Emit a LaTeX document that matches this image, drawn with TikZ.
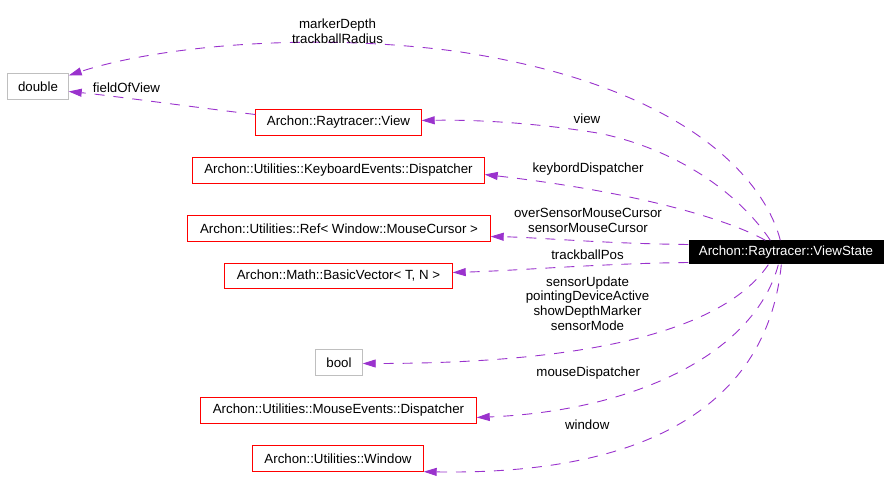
\documentclass[tikz,border=0pt]{standalone}
\usepackage{fontspec}
\setmainfont{Liberation Sans}
\usetikzlibrary{arrows.meta}
\definecolor{edgepurple}{RGB}{154,50,205}
\definecolor{boxred}{RGB}{255,0,0}
\definecolor{boxgrey}{RGB}{191,191,191}
\begin{document}
\begin{tikzpicture}[x=1bp,y=-1bp,
  every node/.style={font=\fontsize{13.3bp}{14.7bp}\selectfont, inner sep=0bp},
  classbox/.style={minimum height=26bp},
  typebox/.style={minimum height=26bp},
  redline/.style={draw=boxred, line width=1bp},
  greyline/.style={draw=boxgrey, line width=1bp},
  mainbox/.style={fill=black, text=white, minimum height=24bp, minimum width=195bp},
  member/.style={draw=edgepurple, line width=0.9bp, dash pattern=on 10bp off 9bp,
    -{Triangle[length=13bp,width=8bp,fill=edgepurple]}},
  lbl/.style={align=center, text=black}
]
\path[use as bounding box] (0,0) rectangle (891,488);

\begin{scope}[shift={(0.5,0.5)}]
% nodes
\node[typebox, minimum width=61bp] (d) at (37.5,86) {double};
\node[classbox, minimum width=166bp] (v) at (338,122) {Archon::Raytracer::View};
\node[classbox, minimum width=292bp] (kb) at (338,170) {Archon::Utilities::KeyboardEvents::Dispatcher};
\node[classbox, minimum width=303bp] (ref) at (338.5,228) {Archon::Utilities::Ref< Window::MouseCursor >};
\node[classbox, minimum width=228bp, minimum height=25bp] (bv) at (338,275.5) {Archon::Math::BasicVector< T, N >};
\node[typebox, minimum width=47bp] (bl) at (338.5,362) {bool};
\node[classbox, minimum width=276bp] (me) at (338,410) {Archon::Utilities::MouseEvents::Dispatcher};
\node[classbox, minimum width=171bp] (w) at (337.5,458) {Archon::Utilities::Window};
\node[mainbox] (vs) at (785.5,252) {Archon::Raytracer::ViewState};

% borders
\draw[greyline] (d.north west) rectangle (d.south east);
\draw[greyline] (bl.north west) rectangle (bl.south east);
\draw[redline] (v.north west) rectangle (v.south east);
\draw[redline] (kb.north west) rectangle (kb.south east);
\draw[redline] (ref.north west) rectangle (ref.south east);
\draw[redline] (bv.north west) rectangle (bv.south east);
\draw[redline] (me.north west) rectangle (me.south east);
\draw[redline] (w.north west) rectangle (w.south east);

% edges
\draw[member] ([xshift=92bp]vs.north west) .. controls (765,182) and (690,86) .. (457,51)
   .. controls (300,30) and (150,48) .. ([yshift=11bp]d.east);
\draw[member] ([yshift=8bp]v.west) .. controls (180,105) and (110,95) .. ([yshift=-5bp]d.east);
\draw[member] ([xshift=82bp]vs.north west) .. controls (740,195) and (680,150) .. (600,133)
   .. controls (540,123) and (480,119) .. ([yshift=2bp]v.east);
\draw[member] ([xshift=77bp]vs.north west) .. controls (730,220) and (640,192) .. ([yshift=-4bp]kb.east);
\draw[member] ([yshift=8bp]vs.west) .. controls (600,243) and (540,237) .. ([yshift=-8bp]ref.east);
\draw[member] ([yshift=-10bp]vs.west) .. controls (600,263) and (520,270) .. ([yshift=3.5bp]bv.east);
\draw[member] ([xshift=80bp]vs.south west) .. controls (730,320) and (620,363) .. ([yshift=-1bp]bl.east);
\draw[member] ([xshift=90bp]vs.south west) .. controls (755,350) and (640,410) .. ([yshift=-7bp]me.east);
\draw[member] ([xshift=93bp]vs.south west) .. controls (768,395) and (660,475) .. (w.south east);

% labels
\node[lbl] (l1) at (337,31) {markerDepth\\trackballRadius};
\node[lbl] (l2) at (126,87) {fieldOfView};
\node[lbl] (l3) at (586.5,118) {view};
\node[lbl] (l4) at (587.5,169) {keybordDispatcher};
\node[lbl] (l5) at (587.5,220) {overSensorMouseCursor\\sensorMouseCursor};
\node[lbl] (l6) at (587,254.5) {trackballPos};
\node[lbl] (l7) at (587,303) {sensorUpdate\\pointingDeviceActive\\showDepthMarker\\sensorMode};
\node[lbl] (l8) at (587.7,372.5) {mouseDispatcher};
\node[lbl] (l9) at (586.7,424.5) {window};
\end{scope}
\end{tikzpicture}
\end{document}
